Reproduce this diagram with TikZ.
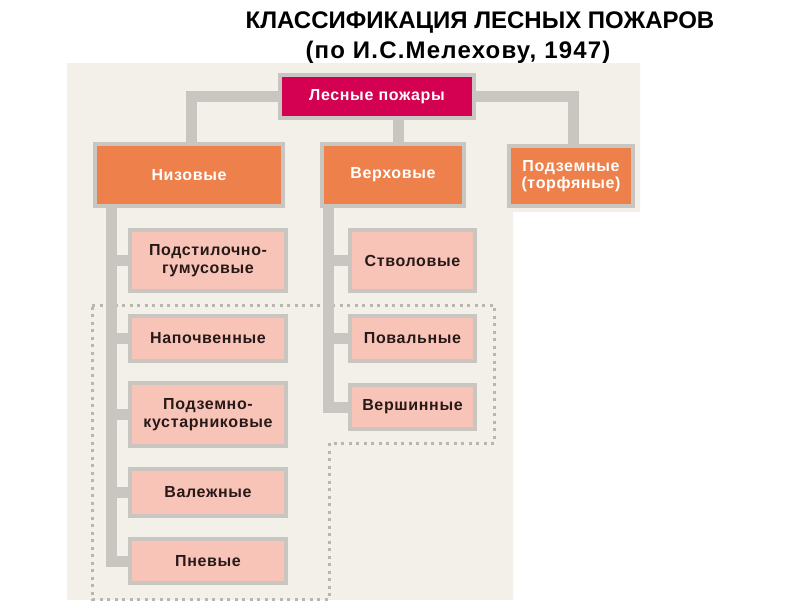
\documentclass[tikz,border=0pt]{standalone}
\usepackage{fontspec}
\setmainfont{Liberation Sans}
\newfontfamily\boxfont[LetterSpace=4]{Liberation Sans}
\newfontfamily\subtitlefont[LetterSpace=5]{Liberation Sans}
\pgfdeclarelayer{bg}
\pgfdeclarelayer{conn}
\pgfsetlayers{bg,conn,main}
\definecolor{crim}{RGB}{212,0,82}
\definecolor{orng}{RGB}{238,128,76}
\definecolor{pnk}{RGB}{249,196,184}
\definecolor{gr}{RGB}{201,197,192}
\definecolor{beige}{RGB}{243,240,233}
\definecolor{dotc}{RGB}{185,181,175}
\definecolor{txt}{RGB}{40,25,25}
\tikzset{
  box/.style={draw=gr, line width=4pt, inner sep=0pt, align=center,
    font=\boxfont\bfseries\fontsize{16}{17.5}\selectfont},
  rootbox/.style={box, fill=crim, text=white},
  catbox/.style={box, fill=orng, text=white},
  subbox/.style={box, fill=pnk, text=txt},
  conn/.style={draw=gr, line width=11pt},
  dotline/.style={draw=dotc, line width=3pt, dash pattern=on 3pt off 4.5pt},
  titlefont/.style={font=\bfseries\fontsize{24}{28}\selectfont}
}
\begin{document}
\begin{tikzpicture}[x=1pt,y=-1pt]
\useasboundingbox (0,0) rectangle (800,600);
\begin{pgfonlayer}{bg}
  \fill[white] (0,0) rectangle (800,600);
  \fill[beige] (67,63) -- (640,63) -- (640,212) -- (513,212) -- (513,600) -- (67,600) -- cycle;
  \draw[dotline] (92,305) -- (494,305) -- (494,443) -- (329,443) -- (329,599) -- (92,599) -- cycle;
\end{pgfonlayer}

\node[titlefont] (t1) at (480,23) {КЛАССИФИКАЦИЯ ЛЕСНЫХ ПОЖАРОВ};
\node[titlefont, font=\subtitlefont\bfseries\fontsize{24}{28}\selectfont] (t2) at (458,52) {(по И.С.Мелехову, 1947)};

\node[rootbox, minimum width=194pt, minimum height=43pt] (root) at (377,96.5) {Лесные пожары};

\node[catbox, minimum width=188pt, minimum height=62pt] (niz) at (189,175) {Низовые};
\node[catbox, minimum width=142pt, minimum height=62pt] (verh) at (393,175) {Верховые};
\node[catbox, minimum width=124pt, minimum height=60pt] (pdz) at (571,176) {Подземные\\(торфяные)};

\node[subbox, minimum width=156pt, minimum height=61pt] (s1) at (208,260.5) {Подстилочно-\\гумусовые};
\node[subbox, minimum width=156pt, minimum height=45pt] (s2) at (208,338.5) {Напочвенные};
\node[subbox, minimum width=156pt, minimum height=63pt] (s3) at (208,414.5) {Подземно-\\кустарниковые};
\node[subbox, minimum width=156pt, minimum height=47pt] (s4) at (208,492.5) {Валежные};
\node[subbox, minimum width=156pt, minimum height=44pt] (s5) at (208,561) {Пневые};

\node[subbox, minimum width=125pt, minimum height=61pt] (r1) at (412.5,260.5) {Стволовые};
\node[subbox, minimum width=125pt, minimum height=45pt] (r2) at (412.5,338.5) {Повальные};
\node[subbox, minimum width=125pt, minimum height=44pt] (r3) at (412.5,407) {Вершинные};

\coordinate (lt) at (111,208);
\coordinate (rt) at (328,208);

\begin{pgfonlayer}{conn}
  \draw[conn] ([xshift=2pt]niz.north) |- (root.center) -| ([xshift=2pt]pdz.north);
  \draw[conn] ([xshift=5pt]verh.north) -- ([xshift=5pt]verh.north |- root.south);
  \draw[conn] (lt) |- (s5.west);
  \foreach \n in {s1,s2,s3,s4} \draw[conn] (lt |- \n.west) -- (\n.west);
  \draw[conn] (rt) |- (r3.west);
  \foreach \n in {r1,r2} \draw[conn] (rt |- \n.west) -- (\n.west);
\end{pgfonlayer}
\end{tikzpicture}
\end{document}
